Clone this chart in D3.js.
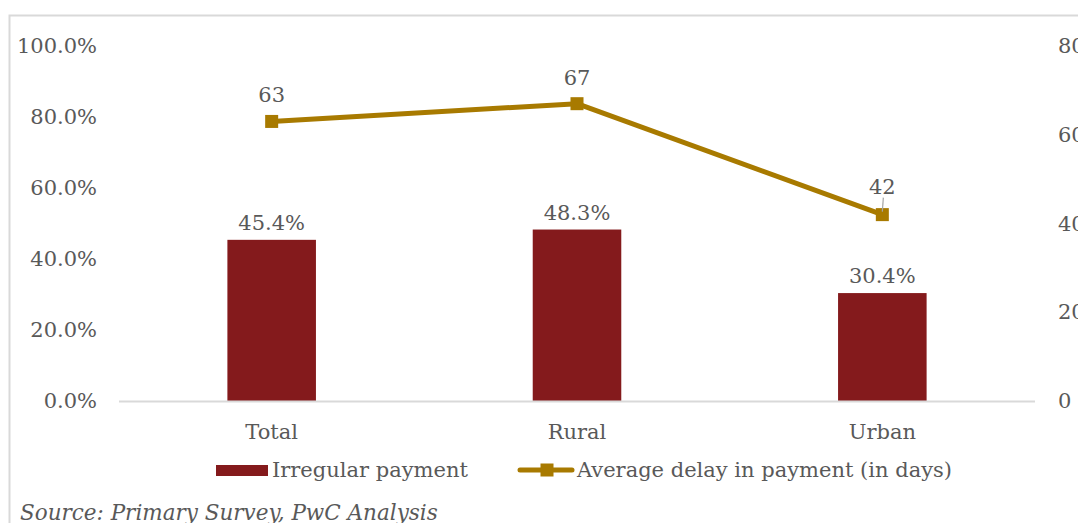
<!DOCTYPE html>
<html>
<head>
<meta charset="utf-8">
<script src="https://cdn.jsdelivr.net/npm/d3@7"></script>
<style>
  html, body { margin: 0; padding: 0; background: #fff; }
  svg { display: block; font-family: "DejaVu Serif", Georgia, serif; }
</style>
</head>
<body>
<svg id="chart" width="1078" height="523"></svg>
<script>
// Share of households with irregular payments and average payment delay
const categories = ["Total", "Rural", "Urban"];
const irregularPct = [45.4, 48.3, 30.4];
const delayDays = [63, 67, 42];
const leftTicks = [0, 20, 40, 60, 80, 100];
const rightTicks = [0, 20, 40, 60, 80];
const seriesNames = ["Irregular payment", "Average delay in payment (in days)"];
const sourceNote = "Source: Primary Survey, PwC Analysis";

const barColor = "#841a1c";
const lineColor = "#a87a00";
const textColor = "#595959";

const svg = d3.select("#chart");
const W = 1078, H = 523;

// outer frame
svg.append("rect")
  .attr("x", 9.5).attr("y", 15.5)
  .attr("width", W + 20).attr("height", H + 20)
  .attr("fill", "none").attr("stroke", "#d9d9d9").attr("stroke-width", 2);

const plot = { left: 119, right: 1035, top: 46, bottom: 401 };

const x = d3.scaleBand().domain(categories)
  .range([plot.left, plot.right]).paddingInner(0).paddingOuter(0);
const yL = d3.scaleLinear().domain([0, 100]).range([plot.bottom, plot.top]);
const yR = d3.scaleLinear().domain([0, 80]).range([plot.bottom, plot.top]);

const fontSize = 21;

// left axis (percent)
const leftAxis = d3.axisLeft(yL).tickValues(leftTicks)
  .tickFormat(d => d.toFixed(1) + "%").tickSize(0).tickPadding(22);
const gL = svg.append("g").attr("transform", `translate(${plot.left},0)`).call(leftAxis);
gL.select(".domain").remove();
gL.selectAll("text").attr("fill", textColor).style("font-size", fontSize + "px")
  .style("font-family", "DejaVu Serif");

// right axis (days)
const rightAxis = d3.axisRight(yR).tickValues(rightTicks)
  .tickFormat(d3.format("d")).tickSize(0).tickPadding(23);
const gR = svg.append("g").attr("transform", `translate(${plot.right},0)`).call(rightAxis);
gR.select(".domain").remove();
gR.selectAll("text").attr("fill", textColor).style("font-size", fontSize + "px")
  .style("font-family", "DejaVu Serif");

// bars
const barW = x.bandwidth() * 0.29;
svg.append("g").selectAll("rect").data(categories).join("rect")
  .attr("x", (d) => x(d) + x.bandwidth() / 2 - barW / 2)
  .attr("y", (d, i) => yL(irregularPct[i]))
  .attr("width", barW)
  .attr("height", (d, i) => yL(0) - yL(irregularPct[i]))
  .attr("fill", barColor);

// baseline
svg.append("line")
  .attr("x1", plot.left).attr("x2", plot.right)
  .attr("y1", plot.bottom + 0.5).attr("y2", plot.bottom + 0.5)
  .attr("stroke", "#d9d9d9").attr("stroke-width", 2);

// category axis
const bottomAxis = d3.axisBottom(x).tickSize(0).tickPadding(23);
const gB = svg.append("g").attr("transform", `translate(0,${plot.bottom})`).call(bottomAxis);
gB.select(".domain").remove();
gB.selectAll("text").attr("fill", textColor).style("font-size", fontSize + "px")
  .style("font-family", "DejaVu Serif");

// bar value labels
svg.append("g").selectAll("text").data(categories).join("text")
  .attr("x", d => x(d) + x.bandwidth() / 2)
  .attr("y", (d, i) => yL(irregularPct[i]) - 10)
  .attr("text-anchor", "middle")
  .attr("fill", textColor).style("font-size", fontSize + "px")
  .text((d, i) => irregularPct[i].toFixed(1) + "%");

// delay line
const cx = d => x(d) + x.bandwidth() / 2;
const line = d3.line().x((d, i) => cx(categories[i])).y(d => yR(d));
svg.append("path").datum(delayDays)
  .attr("d", line).attr("fill", "none")
  .attr("stroke", lineColor).attr("stroke-width", 5).attr("stroke-linejoin", "round");

const mk = 13;
svg.append("g").selectAll("rect").data(delayDays).join("rect")
  .attr("x", (d, i) => cx(categories[i]) - mk / 2)
  .attr("y", d => yR(d) - mk / 2)
  .attr("width", mk).attr("height", mk)
  .attr("fill", lineColor);

// line value labels (last one lifted with a leader)
const labelLift = [19, 19, 21];
svg.append("g").selectAll("text").data(delayDays).join("text")
  .attr("x", (d, i) => cx(categories[i]))
  .attr("y", (d, i) => yR(d) - labelLift[i])
  .attr("text-anchor", "middle")
  .attr("fill", textColor).style("font-size", fontSize + "px")
  .text(d => d);
svg.append("line")
  .attr("x1", cx(categories[2]) + 1).attr("x2", cx(categories[2]))
  .attr("y1", yR(delayDays[2]) - 17).attr("y2", yR(delayDays[2]) - 3)
  .attr("stroke", "#a6a6a6").attr("stroke-width", 1.2);

// legend
const legY = 470;
const leg = svg.append("g");
leg.append("rect").attr("x", 216).attr("y", legY - 5).attr("width", 52).attr("height", 11).attr("fill", barColor);
leg.append("text").attr("x", 272).attr("y", legY).attr("dy", "0.35em")
  .attr("fill", textColor).style("font-size", fontSize + "px").text(seriesNames[0]);
leg.append("line").attr("x1", 520).attr("x2", 572).attr("y1", legY).attr("y2", legY)
  .attr("stroke", lineColor).attr("stroke-width", 5).attr("stroke-linecap", "round");
leg.append("rect").attr("x", 546 - mk / 2 + 1).attr("y", legY - mk / 2).attr("width", mk).attr("height", mk).attr("fill", lineColor);
leg.append("text").attr("x", 577).attr("y", legY).attr("dy", "0.35em")
  .attr("fill", textColor).style("font-size", fontSize + "px").text(seriesNames[1]);

// source note
svg.append("text").attr("x", 20).attr("y", 520)
  .attr("fill", textColor).style("font-size", "21.5px").style("font-style", "italic")
  .text(sourceNote);
</script>
</body>
</html>
